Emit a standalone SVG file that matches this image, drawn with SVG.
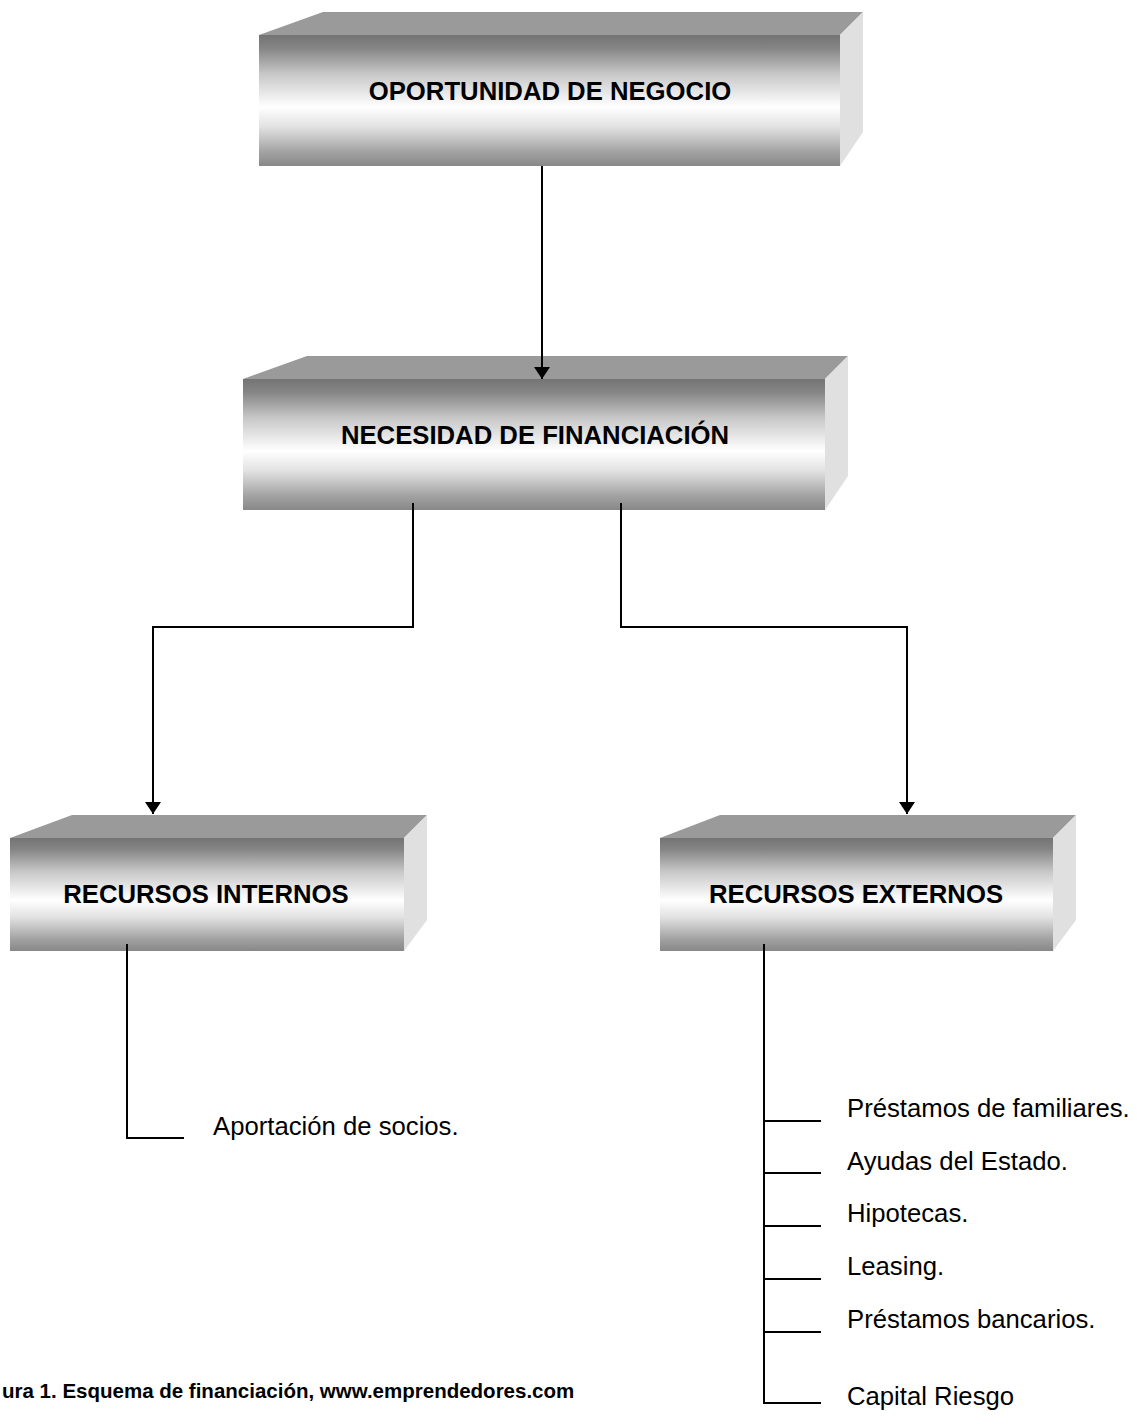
<svg xmlns="http://www.w3.org/2000/svg" width="1137" height="1424" viewBox="0 0 1137 1424">
<defs>
<linearGradient id="front" x1="0" y1="0" x2="0" y2="1">
<stop offset="0" stop-color="#747474"/>
<stop offset="0.1" stop-color="#858585"/>
<stop offset="0.3" stop-color="#c8c8c8"/>
<stop offset="0.55" stop-color="#ffffff"/>
<stop offset="0.7" stop-color="#e2e2e2"/>
<stop offset="0.9" stop-color="#a0a0a0"/>
<stop offset="1" stop-color="#888888"/>
</linearGradient>
<marker id="arr" viewBox="0 0 12 16" refX="12" refY="8" markerWidth="12" markerHeight="16" markerUnits="userSpaceOnUse" orient="auto">
<path d="M0,0 L12,8 L0,16 Z" fill="#000"/>
</marker>
</defs>
<style>
.top{fill:#9a9a9a}
.side{fill:#e0e0e0}
.front{fill:url(#front)}
.title{font-family:"Liberation Sans",Arial,sans-serif;font-weight:bold;font-size:25.7px;text-anchor:middle;fill:#000}
.item{font-family:"Liberation Sans",Arial,sans-serif;font-size:25.7px;fill:#000}
.cap{font-family:"Liberation Sans",Arial,sans-serif;font-weight:bold;font-size:20.5px;fill:#000}
.ln{fill:none;stroke:#000;stroke-width:2}
</style>
<g id="node-oportunidad">
<polygon class="top" points="259,35 323,12 863,12 840,35"/>
<polygon class="side" points="840,35 863,12 863,132 840,166"/>
<rect class="front" x="259" y="35" width="581" height="131"/>
<text class="title" x="550" y="100">OPORTUNIDAD DE NEGOCIO</text>
</g>
<g id="node-necesidad">
<polygon class="top" points="243,379 307,356 848,356 825,379"/>
<polygon class="side" points="825,379 848,356 848,476 825,510"/>
<rect class="front" x="243" y="379" width="582" height="131"/>
<text class="title" x="535" y="444">NECESIDAD DE FINANCIACIÓN</text>
</g>
<g id="node-internos">
<polygon class="top" points="10,838 72,815 427,815 404,838"/>
<polygon class="side" points="404,838 427,815 427,920 404,951"/>
<rect class="front" x="10" y="838" width="394" height="113"/>
<text class="title" x="206" y="903">RECURSOS INTERNOS</text>
</g>
<g id="node-externos">
<polygon class="top" points="660,838 720,815 1076,815 1053,838"/>
<polygon class="side" points="1053,838 1076,815 1076,920 1053,951"/>
<rect class="front" x="660" y="838" width="393" height="113"/>
<text class="title" x="856" y="903">RECURSOS EXTERNOS</text>
</g>
<g id="connectors">
<path class="ln" d="M542,166 V379" marker-end="url(#arr)"/>
<path class="ln" d="M413,503 V627 H153 V814" marker-end="url(#arr)"/>
<path class="ln" d="M621,503 V627 H907 V814" marker-end="url(#arr)"/>
<path class="ln" d="M127,944 V1138 H184"/>
<path class="ln" d="M764,944 V1403 H821 M764,1121 H821 M764,1173 H821 M764,1226 H821 M764,1279 H821 M764,1332 H821"/>
</g>
<g id="labels">
<text class="item" x="213" y="1135">Aportación de socios.</text>
<text class="item" x="847" y="1117">Préstamos de familiares.</text>
<text class="item" x="847" y="1170">Ayudas del Estado.</text>
<text class="item" x="847" y="1222">Hipotecas.</text>
<text class="item" x="847" y="1275">Leasing.</text>
<text class="item" x="847" y="1328">Préstamos bancarios.</text>
<text class="item" x="847" y="1405">Capital Riesgo</text>
<text class="cap" x="2" y="1398">ura 1. Esquema de financiación, www.emprendedores.com</text>
</g>
</svg>
